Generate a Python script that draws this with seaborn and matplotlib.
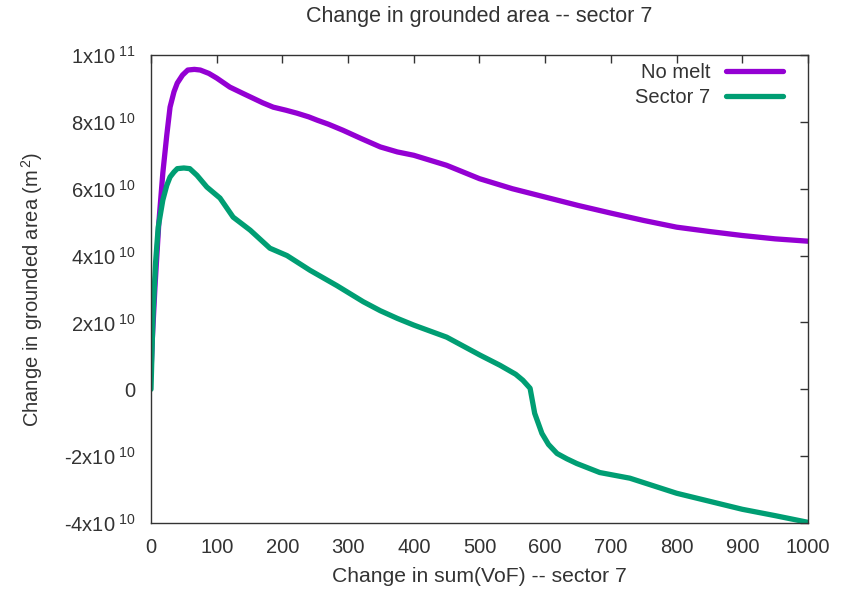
import matplotlib
matplotlib.use("Agg")
import matplotlib.pyplot as plt
import matplotlib.ticker as mticker
import numpy as np
import pandas as pd
import seaborn as sns

# Change in grounded area (m^2) against change in sum(VoF)
no_melt_vof = [0, 2, 6, 12, 18, 24, 29, 35, 40, 48, 56, 66, 75, 88, 100, 120, 140, 155,
               170, 186, 205, 222, 240, 253, 270, 292, 320, 349, 375, 400, 450, 500,
               550, 600, 650, 700, 750, 800, 850, 900, 950, 1000]
no_melt_area = [0.5e10, 1.5e10, 3.05e10, 5.0e10, 6.47e10, 7.6e10, 8.44e10, 8.9e10, 9.16e10,
                9.4e10, 9.55e10, 9.57e10, 9.55e10, 9.45e10, 9.31e10, 9.04e10, 8.85e10, 8.71e10,
                8.57e10, 8.44e10, 8.35e10, 8.26e10, 8.15e10, 8.05e10, 7.93e10, 7.75e10, 7.5e10,
                7.25e10, 7.1e10, 7.0e10, 6.7e10, 6.3e10, 6.0e10, 5.75e10, 5.5e10, 5.27e10,
                5.05e10, 4.85e10, 4.72e10, 4.6e10, 4.5e10, 4.43e10]

sector7_vof = [0, 3, 7, 11, 18, 24, 29, 35, 40, 50, 59, 70, 85, 105, 125, 151, 181, 207,
               242, 283, 323, 349, 375, 400, 450, 501, 531, 555, 566, 577, 584, 595, 605,
               618, 633, 648, 683, 729, 800, 850, 900, 950, 1000]
sector7_area = [0.0, 2.2e10, 3.8e10, 4.85e10, 5.66e10, 6.1e10, 6.35e10, 6.5e10, 6.6e10,
                6.62e10, 6.6e10, 6.4e10, 6.05e10, 5.72e10, 5.15e10, 4.76e10, 4.22e10, 4.0e10,
                3.56e10, 3.1e10, 2.62e10, 2.35e10, 2.12e10, 1.92e10, 1.56e10, 1.02e10, 0.72e10,
                0.45e10, 0.27e10, 0.03e10, -0.72e10, -1.32e10, -1.65e10, -1.92e10, -2.08e10,
                -2.22e10, -2.49e10, -2.66e10, -3.11e10, -3.35e10, -3.59e10, -3.78e10, -3.98e10]

series_names = ["No melt", "Sector 7"]
series_colors = ["#9400d3", "#009e73"]

x_ticks = list(range(0, 1001, 100))
y_ticks = [-4e10, -2e10, 0, 2e10, 4e10, 6e10, 8e10, 1e11]

df = pd.concat([
    pd.DataFrame({"vof": no_melt_vof, "area": no_melt_area, "series": series_names[0]}),
    pd.DataFrame({"vof": sector7_vof, "area": sector7_area, "series": series_names[1]}),
], ignore_index=True)

sns.set_style("white")
plt.rcParams["font.family"] = ["Liberation Sans", "DejaVu Sans"]
plt.rcParams["mathtext.fontset"] = "custom"
plt.rcParams["mathtext.rm"] = "Liberation Sans"
plt.rcParams["mathtext.it"] = "Liberation Sans"
plt.rcParams["text.color"] = "#333333"

FS = 14.5
INK = "#333333"

fig = plt.figure(figsize=(8.52, 5.95), dpi=100)
ax = fig.add_axes([151 / 852, 1 - 523 / 595, (808 - 151) / 852, (523 - 55) / 595])

sns.lineplot(data=df, x="vof", y="area", hue="series", palette=series_colors,
             hue_order=series_names, sort=False, estimator=None, linewidth=3.8, ax=ax)

ax.set_xlim(0, 1000)
ax.set_ylim(-4e10, 1e11)
ax.set_xticks(x_ticks)
ax.set_yticks(y_ticks)


def sci_label(v, pos):
    # gnuplot-style "4x10^10" with a plain hyphen for negatives
    if v == 0:
        return "0"
    exp = int(np.floor(np.log10(abs(v)) + 1e-9))
    mant = int(round(v / 10 ** exp))
    return "%dx10$^{\\mathregular{\\ %d}}$" % (mant, exp)


ax.yaxis.set_major_formatter(mticker.FuncFormatter(sci_label))
ax.tick_params(direction="in", length=6, width=1, top=True, right=True,
               labelsize=FS, labelcolor=INK, color=INK)
ax.tick_params(axis="x", pad=11)
ax.tick_params(axis="y", pad=11)

for s in ax.spines.values():
    s.set_color(INK)
    s.set_linewidth(1.0)

ax.set_title("Change in grounded area -- sector 7", fontsize=15.5, color=INK, pad=24)
ax.set_xlabel("Change in sum(VoF) -- sector 7", fontsize=15.2, color=INK, labelpad=7)
ax.set_ylabel("Change in grounded area (m$^{\\mathregular{\\,2}}$)", fontsize=FS,
              color=INK, labelpad=14)

handles, labels = ax.get_legend_handles_labels()
for h in handles:
    h.set_linewidth(3.8)
ax.legend(handles, labels, loc="upper right", frameon=False, markerfirst=False,
          fontsize=FS, handlelength=2.8, handletextpad=0.8, labelspacing=0.3,
          borderaxespad=0.0, bbox_to_anchor=(0.974, 1.0))

fig.savefig("out.png", dpi=100)
